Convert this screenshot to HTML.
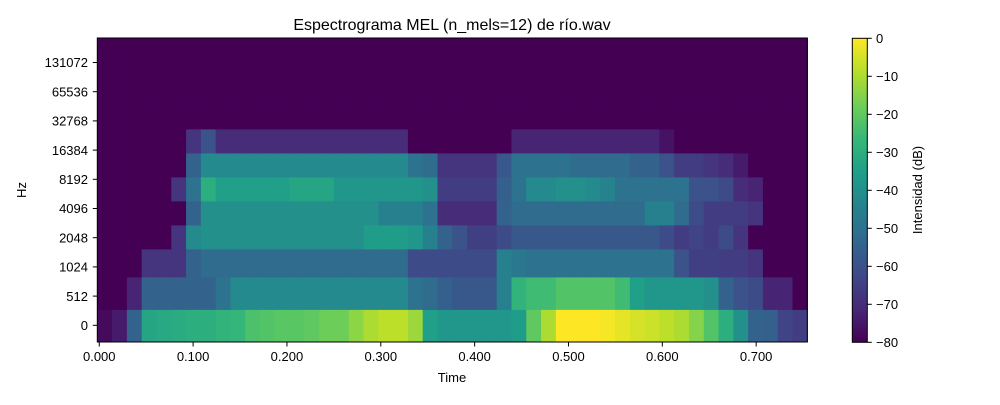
<!DOCTYPE html>
<html><head><meta charset="utf-8"><style>
body{margin:0;background:#fff;width:1000px;height:400px;overflow:hidden}
svg{font-family:"Liberation Sans","DejaVu Sans",sans-serif}
</style></head><body>
<svg id="chart" width="1000" height="400" viewBox="0 0 1000 400" xmlns="http://www.w3.org/2000/svg">
<g id="cells"></g>
<rect x="97.3" y="38" width="710" height="304" fill="none" stroke="#000" stroke-width="1"/>
<text x="452" y="30" font-size="16" text-anchor="middle">Espectrograma MEL (n_mels=12) de río.wav</text>
<g id="xaxis"></g>
<g id="yaxis"></g>
<text x="452" y="382" font-size="13" text-anchor="middle">Time</text>
<text transform="translate(26,190) rotate(-90)" font-size="13" text-anchor="middle">Hz</text>
<defs><linearGradient id="vir" x1="0" y1="1" x2="0" y2="0"></linearGradient></defs>
<rect x="852.3" y="38.3" width="15" height="304" fill="url(#vir)" stroke="#000" stroke-width="1"/>
<g id="cbaxis"></g>
<text transform="translate(922,190) rotate(-90)" font-size="13" text-anchor="middle">Intensidad (dB)</text>
</svg>
<script>
const xTicks=[0,0.1,0.2,0.3,0.4,0.5,0.6,0.7];
const xTickLabels=["0.000","0.100","0.200","0.300","0.400","0.500","0.600","0.700"];
const yTickLabels=["0","512","1024","2048","4096","8192","16384","32768","65536","131072"];
const cbTicks=[0,-10,-20,-30,-40,-50,-60,-70,-80];
const nCols=48;
const F=-80;
const row0=[-78,-74,-55,-33,-32,-31,-30,-30,-28,-27,-23,-22,-21,-21,-20,-18,-18,-14,-10,-8,-8,-12,-35,-38,-38,-38,-38,-38,-36,-20,-10,0,0,0,-1,-3,-5,-6,-8,-10,-15,-22,-30,-40,-55,-56,-64,-66];
const row1=[-80,-80,-72,-55,-55,-55,-55,-55,-50,-42,-42,-42,-42,-42,-42,-42,-42,-42,-42,-42,-42,-50,-52,-56,-58,-58,-58,-45,-28,-25,-25,-22,-22,-22,-22,-25,-35,-38,-38,-38,-38,-40,-55,-60,-62,-72,-72,-80];
const row2=[-80,-80,-80,-68,-68,-68,-55,-52,-52,-52,-52,-52,-52,-52,-52,-52,-52,-52,-52,-52,-52,-62,-62,-62,-62,-62,-62,-45,-48,-50,-50,-50,-50,-50,-50,-50,-50,-50,-50,-60,-65,-65,-66,-66,-68,-80,-80,-80];
const row3=[-80,-80,-80,-80,-80,-68,-42,-40,-40,-40,-40,-40,-40,-40,-40,-40,-40,-40,-36,-36,-36,-38,-45,-55,-60,-65,-65,-62,-58,-58,-58,-58,-58,-58,-58,-58,-58,-58,-62,-66,-64,-66,-62,-68,-80,-80,-80,-80];
const row4=[-80,-80,-80,-80,-80,-80,-55,-40,-40,-40,-40,-40,-40,-40,-40,-40,-40,-40,-40,-45,-45,-45,-50,-70,-70,-70,-70,-55,-52,-52,-52,-52,-52,-52,-52,-52,-52,-45,-45,-52,-62,-66,-66,-66,-68,-80,-80,-80];
const row5=[-80,-80,-80,-80,-80,-68,-50,-30,-35,-35,-35,-35,-35,-33,-33,-33,-38,-38,-38,-38,-38,-38,-40,-66,-66,-66,-66,-56,-50,-42,-42,-40,-40,-42,-44,-50,-50,-50,-50,-50,-60,-60,-62,-70,-72,-80,-80,-80];
const row6=[-80,-80,-80,-80,-80,-80,-55,-42,-42,-42,-42,-42,-42,-42,-42,-42,-42,-42,-42,-42,-42,-50,-52,-68,-68,-68,-68,-58,-50,-50,-50,-50,-52,-52,-52,-52,-55,-55,-60,-66,-66,-68,-70,-74,-80,-80,-80,-80];
const row7=[-80,-80,-80,-80,-80,-80,-68,-60,-70,-70,-70,-70,-70,-70,-70,-70,-70,-70,-70,-70,-70,-80,-80,-80,-80,-80,-80,-80,-72,-72,-72,-72,-72,-72,-72,-72,-72,-72,-76,-80,-80,-80,-80,-80,-80,-80,-80,-80];
const row8=new Array(48).fill(F), row9=new Array(48).fill(F), row10=new Array(48).fill(F), row11=new Array(48).fill(F);
const rows=[row0,row1,row2,row3,row4,row5,row6,row7,row8,row9,row10,row11];

const X0=97.3, X1=807.3, T0=-0.0021, T1=0.7545;
const xs=t=>X0+(t-T0)/(T1-T0)*(X1-X0);
const bandEdges=[342,309.5,277,249,225,201,177,153,129,106,83.5,61,38];
const yTick=i=>325.3-i*29.2;
const cb=v=>342.3-(v+80)/80*304;
const vir=[[68,1,84],[72,40,120],[62,74,137],[49,104,142],[38,130,142],[31,158,137],[53,183,121],[110,206,88],[181,222,43],[253,231,37]];
function col(v){let t=Math.max(0,Math.min(1,(v+80)/80))*(vir.length-1);let i=Math.min(vir.length-2,Math.floor(t)),f=t-i;const a=vir[i],b=vir[i+1];return `rgb(${Math.round(a[0]+(b[0]-a[0])*f)},${Math.round(a[1]+(b[1]-a[1])*f)},${Math.round(a[2]+(b[2]-a[2])*f)})`;}
const NS="http://www.w3.org/2000/svg";
function mk(tag,attrs,parent){const e=document.createElementNS(NS,tag);for(const k in attrs)e.setAttribute(k,attrs[k]);parent.appendChild(e);return e;}
const cells=document.getElementById('cells');
const cw=(X1-X0)/nCols;
rows.forEach((r,ri)=>{r.forEach((v,ci)=>{
 const e=mk('rect',{x:X0+ci*cw,y:bandEdges[ri+1],width:cw+0.6,height:bandEdges[ri]-bandEdges[ri+1]+0.4,fill:col(v)},cells);
 
 
});});
const xa=document.getElementById('xaxis');
xTicks.forEach((t,i)=>{const x=xs(t);
 const l=mk('line',{x1:x,x2:x,y1:342,y2:346.5,stroke:'#000'},xa);
 
 
 const tx=mk('text',{x:x,y:361,'font-size':13,'text-anchor':'middle'},xa);tx.textContent=xTickLabels[i];
 
 
});
const ya=document.getElementById('yaxis');
yTickLabels.forEach((s,i)=>{const y=yTick(i);
 const l=mk('line',{x1:92.8,x2:97.3,y1:y,y2:y,stroke:'#000'},ya);
 
 
 const tx=mk('text',{x:88,y:y+4.7,'font-size':13,'text-anchor':'end'},ya);tx.textContent=s;
 
 
});
const g=document.getElementById('vir');
vir.forEach((c,i)=>{mk('stop',{offset:(i/(vir.length-1)),'stop-color':`rgb(${c})`},g);});
const ca=document.getElementById('cbaxis');
cbTicks.forEach(v=>{const y=cb(v);
 const l=mk('line',{x1:867.3,x2:871.8,y1:y,y2:y,stroke:'#000'},ca);
 
 
 const tx=mk('text',{x:876,y:y+4.7,'font-size':13},ca);tx.textContent=v<0?'\u2212'+(-v):String(v);
 
 
});
</script>
</body></html>
